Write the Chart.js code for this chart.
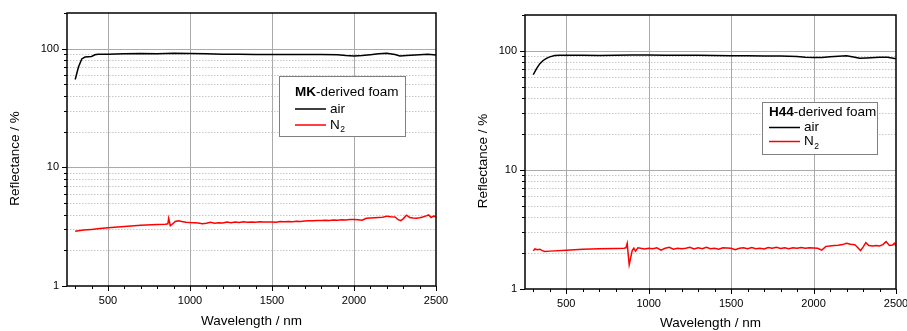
<!DOCTYPE html>
<html>
<head>
<meta charset="utf-8">
<script src="https://cdn.jsdelivr.net/npm/chart.js@4.4.0/dist/chart.umd.min.js"></script>
<style>
  body { margin: 0; background: #fff; }
  #left { position: absolute; left: 0; top: 0; width: 458px; height: 331px; }
  #right { position: absolute; left: 460px; top: 0; width: 447px; height: 331px; }
</style>
</head>
<body>
<div id="left"><canvas id="mkChart"></canvas></div>
<div id="right"><canvas id="h44Chart"></canvas></div>
<script>
// ---- data ----
const WL_MK_AIR = [300,320,340,360,380,400,420,440,500,600,700,800,900,1000,1100,1200,1300,1400,1500,1600,
  1700,1800,1900,1950,2000,2050,2100,2150,2200,2250,2280,2320,2400,2450,2500];
const R_MK_AIR = [55,70,82,85,85.5,86,89,90,90,90.5,91,90.5,91.5,91,90.5,90,89.8,89.5,89.3,89.2,
  89.5,89.2,88.8,87.5,86.8,87.5,89,90.5,91.5,89.5,87,87.5,88.8,89.6,88.5];

const WL_MK_N2 = [
  300,350,400,450,500,600,700,800,850,865,
  870,880,890,910,930,950,975,1000,1025,1050,
  1075,1100,1125,1150,1175,1200,1225,1250,1275,1300,
  1325,1350,1375,1400,1425,1450,1475,1500,1525,1550,
  1575,1600,1625,1650,1675,1700,1725,1750,1775,1800,
  1825,1850,1875,1900,1925,1950,1975,2000,2025,2050,
  2075,2100,2125,2150,2175,2200,2225,2250,2270,2285,
  2300,2320,2340,2360,2380,2400,2420,2440,2455,2470,
  2485,2500];
const R_MK_N2 = [
  2.9,2.96,3.0,3.05,3.1,3.18,3.25,3.3,3.32,3.34,
  3.72,3.22,3.3,3.5,3.55,3.5,3.45,3.43,3.42,3.4,
  3.35,3.38,3.44,3.38,3.42,3.4,3.46,3.42,3.47,3.43,
  3.48,3.44,3.47,3.45,3.48,3.46,3.47,3.46,3.44,3.5,
  3.48,3.5,3.48,3.52,3.5,3.53,3.55,3.54,3.57,3.56,
  3.58,3.57,3.6,3.59,3.62,3.6,3.63,3.64,3.62,3.58,
  3.72,3.74,3.76,3.78,3.8,3.88,3.84,3.82,3.62,3.55,
  3.68,3.95,3.78,3.75,3.73,3.76,3.82,3.9,3.97,3.78,
  3.88,3.85];

const WL_H44_AIR = [300,320,340,360,380,400,430,460,500,600,700,800,900,1000,1100,1200,1300,1400,1500,1600,
  1700,1800,1900,1950,2000,2050,2100,2150,2200,2250,2280,2320,2400,2450,2500];
const R_H44_AIR = [63,71,78,83,86.5,89,91.5,92,92,92,91.5,92,92.5,92.5,92,92,91.8,91.5,91,91,
  90.5,90.5,89.8,88.5,87.8,88,89,90,90.8,88.5,86.5,87,88.5,88.5,86];

const WL_H44_N2 = [
  300,310,325,340,355,370,400,500,600,700,
  800,850,862,870,876,882,890,900,910,920,
  935,950,975,1000,1025,1050,1075,1100,1125,1150,
  1175,1200,1225,1250,1275,1300,1325,1350,1375,1400,
  1425,1450,1475,1500,1525,1550,1575,1600,1625,1650,
  1675,1700,1725,1750,1775,1800,1825,1850,1875,1900,
  1925,1950,1975,2000,2025,2050,2075,2100,2125,2150,
  2175,2200,2225,2250,2265,2285,2300,2317,2335,2360,
  2380,2400,2420,2440,2460,2480,2490,2500];
const R_H44_N2 = [
  2.09,2.17,2.14,2.16,2.1,2.07,2.08,2.12,2.16,2.18,
  2.19,2.2,2.22,2.42,1.95,1.6,1.8,2.1,2.2,2.08,
  2.22,2.2,2.17,2.2,2.18,2.22,2.12,2.2,2.24,2.16,
  2.2,2.18,2.2,2.24,2.17,2.22,2.18,2.24,2.18,2.2,
  2.16,2.22,2.21,2.2,2.14,2.2,2.22,2.18,2.23,2.18,
  2.2,2.17,2.23,2.2,2.24,2.19,2.22,2.18,2.22,2.2,
  2.23,2.2,2.22,2.21,2.2,2.12,2.28,2.3,2.32,2.33,
  2.36,2.42,2.38,2.35,2.25,2.1,2.25,2.45,2.32,2.3,
  2.32,2.3,2.36,2.5,2.32,2.34,2.42,2.3];

// ---- axis ticks ----
const X_TICKS = [300,400,500,600,700,800,900,1000,1100,1200,1300,1400,1500,1600,1700,1800,1900,2000,2100,2200,2300,2400,2500];
const X_LABELED = [500,1000,1500,2000,2500];
const Y_TICKS = [1,2,3,4,5,6,7,8,9,10,20,30,40,50,60,70,80,90,100,200];
const Y_LABELED = [1,10,100];

const FONT = "'Liberation Sans', Arial, sans-serif";

const toPoints = (xs, ys) => xs.map((x, i) => ({ x, y: ys[i] }));

// grid, frame, tick marks, y title and the boxed legend
const frameAndGrid = {
  id: "frameAndGrid",
  beforeDatasetsDraw(chart) {
    const { ctx, chartArea: a, scales: { x, y } } = chart;
    const hline = (py) => { ctx.beginPath(); ctx.moveTo(a.left, py); ctx.lineTo(a.right, py); ctx.stroke(); };
    ctx.save();
    ctx.lineWidth = 1;
    ctx.strokeStyle = "#c8c8c8";
    ctx.setLineDash([1.5, 1.5]);
    Y_TICKS.filter((v) => !Y_LABELED.includes(v)).forEach((v) => {
      const py = Math.round(y.getPixelForValue(v)) + 0.5;
      if (py > a.top + 1) hline(py);
    });
    ctx.setLineDash([]);
    ctx.strokeStyle = "#aaaaaa";
    [10, 100].forEach((v) => hline(Math.round(y.getPixelForValue(v)) + 0.5));
    X_LABELED.filter((v) => v < 2500).forEach((v) => {
      const px = Math.round(x.getPixelForValue(v)) + 0.5;
      ctx.beginPath(); ctx.moveTo(px, a.top); ctx.lineTo(px, a.bottom); ctx.stroke();
    });
    ctx.restore();
  },
  afterDatasetsDraw(chart, args, opts) {
    const { ctx, chartArea: a, scales: { x, y } } = chart;
    ctx.save();
    ctx.strokeStyle = "#000";
    ctx.lineWidth = 1;
    // tick marks
    Y_TICKS.forEach((v) => {
      const py = Math.round(y.getPixelForValue(v)) + 0.5;
      if (py < a.top) return;
      const len = Y_LABELED.includes(v) ? 5 : 3;
      ctx.beginPath(); ctx.moveTo(a.left - len, py); ctx.lineTo(a.left, py); ctx.stroke();
    });
    X_TICKS.forEach((v) => {
      const px = Math.round(x.getPixelForValue(v)) + 0.5;
      const len = X_LABELED.includes(v) ? 5 : 3;
      ctx.beginPath(); ctx.moveTo(px, a.bottom); ctx.lineTo(px, a.bottom + len); ctx.stroke();
    });
    // frame
    ctx.lineWidth = 1.5;
    ctx.strokeRect(a.left, a.top, a.right - a.left, a.bottom - a.top);

    // y axis title
    ctx.fillStyle = "#000";
    ctx.font = "13.5px " + FONT;
    ctx.textAlign = "center";
    ctx.textBaseline = "middle";
    ctx.translate(a.left - opts.titleDx, (a.top + a.bottom) / 2 + 9);
    ctx.rotate(-Math.PI / 2);
    ctx.fillText("Reflectance / %", 0, 0);
    ctx.setTransform(1, 0, 0, 1, 0, 0);

    // legend box
    const L = opts.legend;
    const bx = a.left + L.left, by = a.top + L.top;
    ctx.fillStyle = "#fff";
    ctx.fillRect(bx, by, L.w, L.h);
    ctx.strokeStyle = "#808080";
    ctx.lineWidth = 1;
    ctx.strokeRect(Math.round(bx) + 0.5, Math.round(by) + 0.5, L.w, L.h);

    ctx.fillStyle = "#000";
    ctx.textAlign = "left";
    ctx.textBaseline = "middle";
    ctx.font = "bold 13.5px " + FONT;
    ctx.fillText(L.bold, bx + L.padX, by + L.titleY);
    const bw = ctx.measureText(L.bold).width;
    ctx.font = "13.5px " + FONT;
    ctx.fillText(L.rest, bx + L.padX + bw, by + L.titleY);

    chart.data.datasets.forEach((ds, i) => {
      const ry = by + L.rowY[i];
      ctx.strokeStyle = ds.borderColor;
      ctx.lineWidth = 1.5;
      ctx.beginPath();
      ctx.moveTo(bx + L.padX, ry);
      ctx.lineTo(bx + L.padX + 31, ry);
      ctx.stroke();
      const m = ds.label.match(/^([A-Za-z]+)(\d+)$/);
      const tx = bx + L.padX + 35;
      ctx.fillStyle = "#000";
      ctx.font = "13.5px " + FONT;
      if (m) {
        ctx.fillText(m[1], tx, ry);
        const w = ctx.measureText(m[1]).width;
        ctx.font = "8.5px " + FONT;
        ctx.fillText(m[2], tx + w + 0.5, ry + 5);
      } else {
        ctx.fillText(ds.label, tx, ry);
      }
    });
    ctx.restore();
  },
};

function makeChart(canvasId, air, n2, cfg) {
  new Chart(document.getElementById(canvasId), {
    type: "line",
    data: {
      datasets: [
        { label: "air", data: air, borderColor: "#000000", borderWidth: 1.5, pointRadius: 0, tension: 0 },
        { label: "N2", data: n2, borderColor: "#ff0000", borderWidth: 1.5, pointRadius: 0, tension: 0 },
      ],
    },
    plugins: [frameAndGrid],
    options: {
      responsive: true,
      maintainAspectRatio: false,
      animation: false,
      layout: { padding: cfg.padding },
      plugins: {
        legend: { display: false },
        tooltip: { enabled: false },
        frameAndGrid: { titleDx: cfg.titleDx, legend: cfg.legend },
      },
      scales: {
        x: {
          type: "linear",
          min: 250,
          max: 2500,
          afterBuildTicks: (s) => { s.ticks = X_TICKS.map((v) => ({ value: v })); },
          afterFit: (s) => { s.height = cfg.xHeight; s.paddingLeft = 0; s.paddingRight = 0; },
          grid: { display: false, drawTicks: false },
          border: { display: false },
          ticks: {
            autoSkip: false,
            maxRotation: 0,
            padding: 8,
            color: "#000",
            font: { family: FONT, size: 11 },
            callback: (v) => (X_LABELED.includes(v) ? String(v) : ""),
          },
          title: {
            display: true,
            text: "Wavelength / nm",
            color: "#000",
            font: { family: FONT, size: 13.5 },
            padding: { top: 0, bottom: cfg.xTitlePad },
          },
        },
        y: {
          type: "logarithmic",
          min: 1,
          max: 200,
          afterBuildTicks: (s) => { s.ticks = Y_TICKS.map((v) => ({ value: v })); },
          afterFit: (s) => { s.width = cfg.yWidth; s.paddingTop = 0; s.paddingBottom = 0; },
          grid: { display: false, drawTicks: false },
          border: { display: false },
          ticks: {
            autoSkip: false,
            padding: 8,
            color: "#000",
            font: { family: FONT, size: 11 },
            callback: (v) => (Y_LABELED.includes(v) ? String(v) : ""),
          },
        },
      },
    },
  });
}

makeChart("mkChart", toPoints(WL_MK_AIR, R_MK_AIR), toPoints(WL_MK_N2, R_MK_N2), {
  padding: { top: 13, right: 22, bottom: 0, left: 0 },
  yWidth: 67,
  xHeight: 45,
  xTitlePad: 2,
  titleDx: 52,
  legend: { bold: "MK", rest: "-derived foam", left: 212, top: 63, w: 126, h: 60, padX: 16, titleY: 16, rowY: [33, 49] },
});

makeChart("h44Chart", toPoints(WL_H44_AIR, R_H44_AIR), toPoints(WL_H44_N2, R_H44_N2), {
  padding: { top: 15, right: 11, bottom: 0, left: 0 },
  yWidth: 65,
  xHeight: 42,
  xTitlePad: 0,
  titleDx: 42,
  legend: { bold: "H44", rest: "-derived foam", left: 237, top: 87, w: 115, h: 52, padX: 7, titleY: 10, rowY: [25.5, 39.5] },
});
</script>
</body>
</html>
